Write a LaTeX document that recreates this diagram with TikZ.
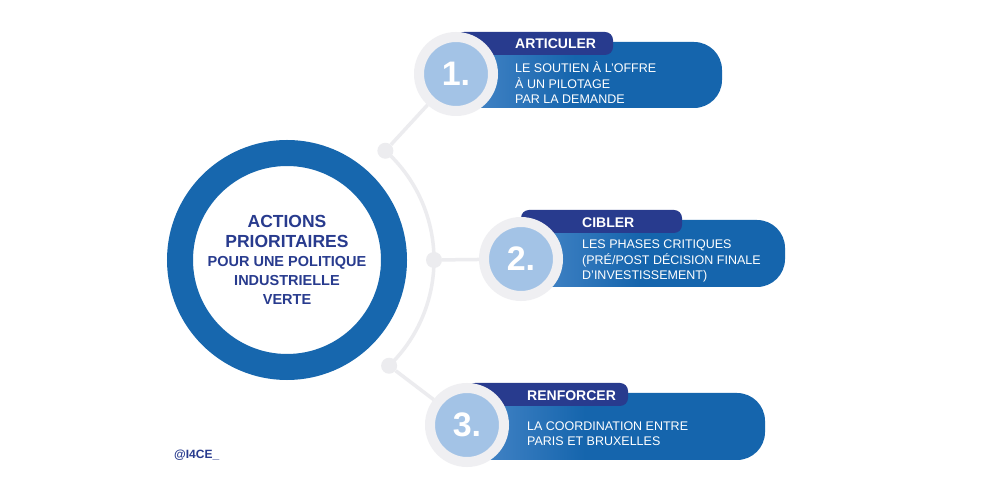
\documentclass[tikz,border=0pt]{standalone}
\usepackage{fontspec}
\setmainfont{Liberation Sans}
\usetikzlibrary{calc}

\definecolor{ringblue}{HTML}{1767AE}
\definecolor{navy}{HTML}{283B8E}
\definecolor{barblue}{HTML}{1565AD}
\definecolor{barlight}{HTML}{4A88C9}
\definecolor{discblue}{HTML}{A3C3E6}
\definecolor{discgray}{HTML}{EFEFF2}
\definecolor{linkgray}{HTML}{ECECEF}

\tikzset{
  hub/.style={circle,draw=ringblue,line width=26pt,fill=white,minimum size=214pt,
    inner sep=0pt,align=center,text=navy,font=\fontsize{14.5}{19}\selectfont\bfseries},
  link/.style={linkgray,line width=3.5pt},
  dot/.style={circle,fill=linkgray,minimum size=16pt,inner sep=0pt},
  numdisc/.style={circle,fill=discblue,draw=discgray,line width=10pt,minimum size=74pt,
    inner sep=0pt,text=white,font=\fontsize{34}{34}\selectfont\bfseries},
  tabtext/.style={anchor=west,inner sep=0pt,text=white,font=\fontsize{14}{16}\selectfont\bfseries},
  bodytext/.style={anchor=west,inner sep=0pt,text=white,align=left,
    font=\fontsize{12.5}{15.5}\selectfont}
}

\begin{document}
\begin{tikzpicture}[x=1pt,y=1pt]
\useasboundingbox[fill=white] (0,0) rectangle (1000,500);

\coordinate (c1) at (456,426);
\coordinate (c2) at (521,241);
\coordinate (c3) at (467,75);

% bars
\fill[barblue,rounded corners=28pt] (c1) ++(0,-34) rectangle (722,458);
\shade[left color=barlight,right color=barblue] (c1) ++(20,-34) rectangle (575,458);
\fill[navy,rounded corners=8pt] (c1) ++(0,19) rectangle (613,468);

\fill[barblue,rounded corners=28pt] (c2) ++(0,-28) rectangle (785,280);
\shade[left color=barlight,right color=barblue] (c2) ++(20,-28) rectangle (640,280);
\fill[navy,rounded corners=8pt] (c2) ++(0,26) rectangle (682,290);

\fill[barblue,rounded corners=28pt] (c3) ++(0,-35) rectangle (765,107);
\shade[left color=barlight,right color=barblue] (c3) ++(20,-35) rectangle (585,107);
\fill[navy,rounded corners=8pt] (c3) ++(0,19) rectangle (628,117);

% hub and connectors
\node[hub] (hub) at (287,240) {%
  {\fontsize{17.5}{20}\selectfont ACTIONS}\\[1pt]
  {\fontsize{17.5}{20}\selectfont PRIORITAIRES}\\
  POUR UNE POLITIQUE\\
  INDUSTRIELLE\\
  VERTE};

\path (hub.center) ++(48:147) coordinate (a1);
\draw[link] (a1) arc[start angle=48,end angle=-46,radius=147];
\node[dot] (d1) at (a1) {};
\node[dot] (d2) at ($(hub.center)+(0:147)$) {};
\node[dot] (d3) at ($(hub.center)+(-46:147)$) {};

\node[numdisc] (n1) at (c1) {1.};
\node[numdisc] (n2) at (c2) {2.};
\node[numdisc] (n3) at (c3) {3.};

\draw[link] (d1) -- (n1);
\draw[link] (d2) -- (n2);
\draw[link] (d3) -- (n3);

% texts
\node[tabtext] (t1) at (515,456) {ARTICULER};
\node[bodytext] (b1) at (515,417) {LE SOUTIEN À L'OFFRE\\À UN PILOTAGE\\PAR LA DEMANDE};

\node[tabtext] (t2) at (582,277) {CIBLER};
\node[bodytext] (b2) at (582,239) {LES PHASES CRITIQUES\\(PRÉ/POST DÉCISION FINALE\\D’INVESTISSEMENT)};

\node[tabtext] (t3) at (527,104) {RENFORCER};
\node[bodytext] (b3) at (527,66.5) {LA COORDINATION ENTRE\\PARIS ET BRUXELLES};

\node[anchor=west,inner sep=0pt,text=navy,font=\fontsize{12}{14}\selectfont\bfseries] (tag) at (174,45) {@I4CE\_};
\end{tikzpicture}
\end{document}
